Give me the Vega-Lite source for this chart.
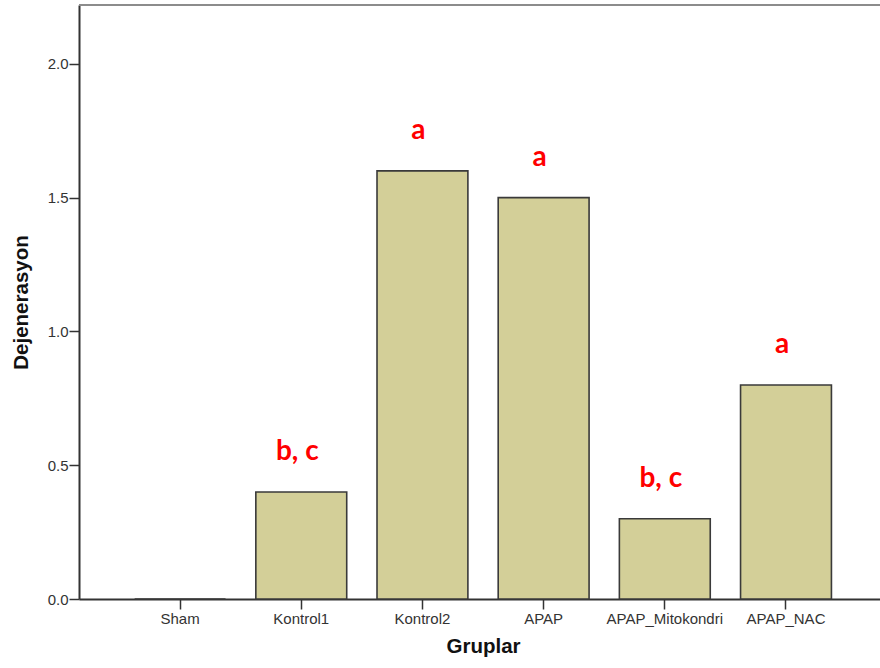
{
  "$schema": "https://vega.github.io/schema/vega-lite/v6.json",
  "autosize": {"type": "none"},
  "padding": {"left": 79, "top": 5, "right": 0, "bottom": 69},
  "width": 801,
  "height": 594,
  "background": "white",
  "config": {
    "view": {"stroke": null},
    "axis": {
      "labelFont": "Liberation Sans",
      "labelFontSize": 15,
      "labelColor": "#333333",
      "titleFont": "Liberation Sans",
      "titleFontSize": 20.5,
      "titleFontWeight": "bold",
      "titleColor": "#111111",
      "domainColor": "#333333",
      "domainWidth": 2,
      "tickColor": "#333333",
      "tickWidth": 1.5,
      "tickSize": 10,
      "grid": false
    }
  },
  "data": {
    "values": [
      {"grup": "Sham", "dejenerasyon": 0, "harf": ""},
      {"grup": "Kontrol1", "dejenerasyon": 0.4, "harf": "b, c"},
      {"grup": "Kontrol2", "dejenerasyon": 1.6, "harf": "a"},
      {"grup": "APAP", "dejenerasyon": 1.5, "harf": "a"},
      {"grup": "APAP_Mitokondri", "dejenerasyon": 0.3, "harf": "b, c"},
      {"grup": "APAP_NAC", "dejenerasyon": 0.8, "harf": "a"}
    ]
  },
  "encoding": {
    "x": {
      "field": "grup",
      "type": "nominal",
      "sort": null,
      "scale": {"paddingInner": 0.25, "paddingOuter": 0.43, "align": 0.534},
      "axis": {
        "title": "Gruplar",
        "labelAngle": 0,
        "labelPadding": 2,
        "titleX": 404,
        "titleY": 53,
        "titleBaseline": "alphabetic",
        "titleAlign": "center"
      }
    },
    "y": {
      "field": "dejenerasyon",
      "type": "quantitative",
      "scale": {"domain": [0, 2.22], "nice": false, "zero": true},
      "axis": {
        "title": "Dejenerasyon",
        "values": [0, 0.5, 1, 1.5, 2],
        "format": ".1f",
        "labelPadding": 1,
        "titleAngle": -90,
        "titleX": -52,
        "titleY": 297,
        "titleBaseline": "alphabetic",
        "titleAlign": "center"
      }
    }
  },
  "layer": [
    {
      "mark": {"type": "bar", "fill": "#d3cf98", "stroke": "#3a3a3a", "strokeWidth": 1.6}
    },
    {
      "transform": [{"filter": "datum.harf != ''"}],
      "mark": {
        "type": "text",
        "font": "Lato",
        "fontWeight": "bold",
        "fontSize": 28,
        "color": "#ff0000",
        "baseline": "alphabetic",
        "align": "center",
        "dy": -32,
        "dx": -4
      },
      "encoding": {"text": {"field": "harf"}}
    },
    {
      "mark": {"type": "rule", "color": "#8c8c8c", "strokeWidth": 2},
      "encoding": {"x": null, "y": {"datum": 2.22}}
    }
  ]
}
